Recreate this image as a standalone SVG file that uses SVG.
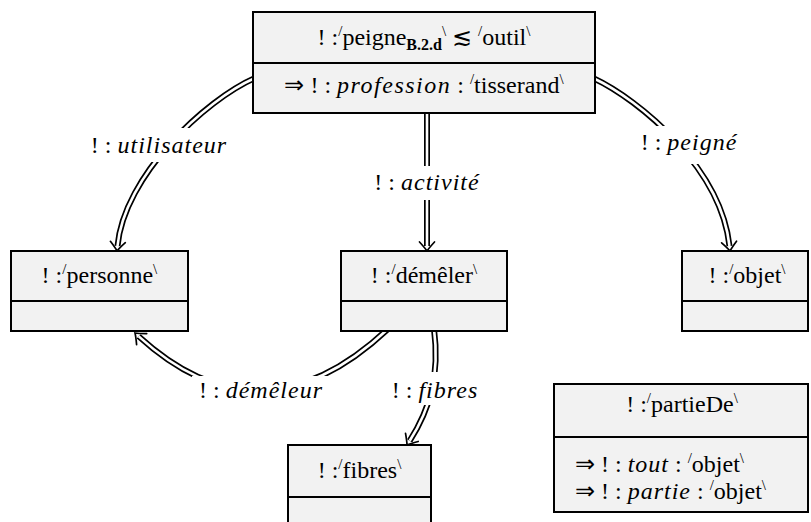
<svg xmlns="http://www.w3.org/2000/svg" width="811" height="522" viewBox="0 0 811 522">
<defs>
<marker id="imp" markerUnits="userSpaceOnUse" markerWidth="24" markerHeight="24" viewBox="-16 -12 24 24" refX="-5" refY="0" orient="auto" overflow="visible">
<path d="M -9 -7.5 Q -3 -2 0 0 Q -3 2 -9 7.5" fill="none" stroke="#000" stroke-width="1.7" stroke-linecap="round"/>
</marker>
</defs>
<g id="connectors" fill="none">
<path stroke="#000" stroke-width="6" marker-end="url(#imp)" d="M 255 78 C 205 100 124 176 117.5 246"/>
<path stroke="#fff" stroke-width="2.6" d="M 255 78 C 205 100 124 176 117.5 246"/>
<path stroke="#000" stroke-width="6" marker-end="url(#imp)" d="M 427 112 L 427 246"/>
<path stroke="#fff" stroke-width="2.6" d="M 427 112 L 427 246"/>
<path stroke="#000" stroke-width="6" marker-end="url(#imp)" d="M 593 78 C 640 100 721 168 729.5 246"/>
<path stroke="#fff" stroke-width="2.6" d="M 593 78 C 640 100 721 168 729.5 246"/>
<path stroke="#000" stroke-width="6" marker-end="url(#imp)" d="M 388 329 Q 261 448 138.7 336.4"/>
<path stroke="#fff" stroke-width="2.6" d="M 388 329 Q 261 448 138.7 336.4"/>
<path stroke="#000" stroke-width="6" marker-end="url(#imp)" d="M 434 329 C 440 375 430 409 409.7 440.8"/>
<path stroke="#fff" stroke-width="2.6" d="M 434 329 C 440 375 430 409 409.7 440.8"/>
</g>
<g id="connector-labels">
<rect fill="#fff" x="90" y="128" width="138" height="34"/>
<text x="159" y="153" text-anchor="middle" font-family="Liberation Serif" font-size="24">! : <tspan font-style="italic" letter-spacing="1">utilisateur</tspan></text>
<rect fill="#fff" x="370" y="166" width="114" height="34"/>
<text x="427" y="190" text-anchor="middle" font-family="Liberation Serif" font-size="24">! : <tspan font-style="italic" letter-spacing="1">activité</tspan></text>
<rect fill="#fff" x="636" y="126" width="106" height="38"/>
<text x="689" y="150" text-anchor="middle" font-family="Liberation Serif" font-size="24">! : <tspan font-style="italic" letter-spacing="1">peigné</tspan></text>
<rect fill="#fff" x="192" y="376" width="140" height="32"/>
<text x="261" y="398" text-anchor="middle" font-family="Liberation Serif" font-size="24">! : <tspan font-style="italic" letter-spacing="1">démêleur</tspan></text>
<rect fill="#fff" x="388" y="372" width="94" height="33"/>
<text x="435" y="398" text-anchor="middle" font-family="Liberation Serif" font-size="24">! : <tspan font-style="italic" letter-spacing="1">fibres</tspan></text>
</g>
<g id="peigne">
<rect x="253" y="12" width="342" height="101" fill="#f2f2f2" stroke="#000" stroke-width="2"/>
<line x1="253" y1="63" x2="595" y2="63" stroke="#000" stroke-width="2"/>
<text x="424" y="45" text-anchor="middle" font-family="Liberation Serif" font-size="24">! :<tspan font-size="15" dy="-9">/</tspan><tspan dy="9">peigne</tspan><tspan font-size="16" font-weight="bold" dy="5">B.2.d</tspan><tspan font-size="15" dy="-14">\</tspan><tspan dy="9"> ≲ </tspan><tspan font-size="15" dy="-9">/</tspan><tspan dy="9">outil</tspan><tspan font-size="15" dy="-9">\</tspan></text>
<text x="424" y="93" text-anchor="middle" font-family="Liberation Serif" font-size="24">⇒ ! : <tspan font-style="italic" letter-spacing="1.5">profession</tspan> : <tspan font-size="15" dy="-9">/</tspan><tspan dy="9">tisserand</tspan><tspan font-size="15" dy="-9">\</tspan></text>
</g>
<g id="personne">
<rect x="11" y="251" width="177" height="80" fill="#f2f2f2" stroke="#000" stroke-width="2"/>
<line x1="11" y1="301" x2="188" y2="301" stroke="#000" stroke-width="2"/>
<text x="41.6" y="283" font-family="Liberation Serif" font-size="24">! :</text>
<text x="62.3" y="274" font-family="Liberation Serif" font-size="15">/</text>
<text x="66.5" y="283" font-family="Liberation Serif" font-size="24">personne</text>
<text x="153.1" y="274" font-family="Liberation Serif" font-size="15">\</text>
</g>
<g id="demeler">
<rect x="341" y="251" width="166" height="80" fill="#f2f2f2" stroke="#000" stroke-width="2"/>
<line x1="341" y1="301" x2="507" y2="301" stroke="#000" stroke-width="2"/>
<text x="424" y="283" text-anchor="middle" font-family="Liberation Serif" font-size="24">! :<tspan font-size="15" dy="-9">/</tspan><tspan dy="9">démêler</tspan><tspan font-size="15" dy="-9">\</tspan></text>
</g>
<g id="objet">
<rect x="682" y="251" width="126" height="80" fill="#f2f2f2" stroke="#000" stroke-width="2"/>
<line x1="682" y1="301" x2="808" y2="301" stroke="#000" stroke-width="2"/>
<text x="747" y="283" text-anchor="middle" font-family="Liberation Serif" font-size="24">! :<tspan font-size="15" dy="-9">/</tspan><tspan dy="9">objet</tspan><tspan font-size="15" dy="-9">\</tspan></text>
</g>
<g id="fibres">
<rect x="288" y="445" width="143" height="90" fill="#f2f2f2" stroke="#000" stroke-width="2"/>
<line x1="288" y1="497" x2="431" y2="497" stroke="#000" stroke-width="2"/>
<text x="359.5" y="478" text-anchor="middle" font-family="Liberation Serif" font-size="24">! :<tspan font-size="15" dy="-9">/</tspan><tspan dy="9">fibres</tspan><tspan font-size="15" dy="-9">\</tspan></text>
</g>
<g id="partieDe">
<rect x="554" y="384" width="254" height="128" fill="#f2f2f2" stroke="#000" stroke-width="2"/>
<line x1="554" y1="437" x2="808" y2="437" stroke="#000" stroke-width="2"/>
<text x="682" y="412" text-anchor="middle" font-family="Liberation Serif" font-size="24">! :<tspan font-size="15" dy="-9">/</tspan><tspan dy="9">partieDe</tspan><tspan font-size="15" dy="-9">\</tspan></text>
<text x="575" y="472" font-family="Liberation Serif" font-size="24">⇒ ! : <tspan font-style="italic" letter-spacing="1">tout</tspan> : <tspan font-size="15" dy="-9">/</tspan><tspan dy="9">objet</tspan><tspan font-size="15" dy="-9">\</tspan></text>
<text x="575" y="499" font-family="Liberation Serif" font-size="24">⇒ ! : <tspan font-style="italic" letter-spacing="1">partie</tspan> : <tspan font-size="15" dy="-9">/</tspan><tspan dy="9">objet</tspan><tspan font-size="15" dy="-9">\</tspan></text>
</g>
</svg>
